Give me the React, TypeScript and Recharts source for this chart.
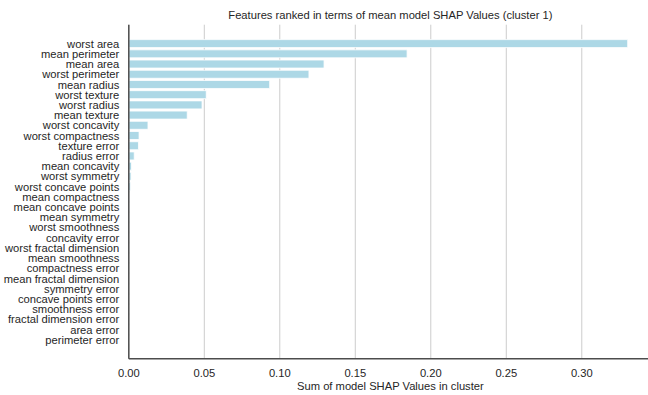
import React from "react";
import { BarChart, Bar, XAxis, YAxis, CartesianGrid, Label } from "recharts";

// Features ordered by their summed SHAP contribution within cluster 1
const features: string[] = [
  "worst area",
  "mean perimeter",
  "mean area",
  "worst perimeter",
  "mean radius",
  "worst texture",
  "worst radius",
  "mean texture",
  "worst concavity",
  "worst compactness",
  "texture error",
  "radius error",
  "mean concavity",
  "worst symmetry",
  "worst concave points",
  "mean compactness",
  "mean concave points",
  "mean symmetry",
  "worst smoothness",
  "concavity error",
  "worst fractal dimension",
  "mean smoothness",
  "compactness error",
  "mean fractal dimension",
  "symmetry error",
  "concave points error",
  "smoothness error",
  "fractal dimension error",
  "area error",
  "perimeter error",
];

const shapSums: number[] = [
  0.3304, 0.1843, 0.1293, 0.1193, 0.0933, 0.0513, 0.0485, 0.0387, 0.0127,
  0.0068, 0.0064, 0.0036, 0.0018, 0.0015, 0.0012, 0.0004, 0.0003, 0.0003,
  0.0002, 0.0002, 0.0002, 0.0001, 0.0001, 0.0001, 0.0001, 0.0001, 0.00005,
  0.00005, 0.00003, 0.00002,
];

const xTicks: number[] = [0, 0.05, 0.1, 0.15, 0.2, 0.25, 0.3];

const data = features.map((name, i) => ({ name, value: shapSums[i] }));

const FONT = "'Liberation Sans', Arial, sans-serif";
const FONT_SIZE = 11.2;
const TEXT = "#262626";
const SPINE = "#4d4d4d";
const X_MAX = 0.3465;

// Single-line category label, right-aligned against the left spine
function FeatureTick(props: any) {
  const { x, y, payload } = props;
  return (
    <text
      x={x}
      y={y}
      dy="0.355em"
      textAnchor="end"
      fontFamily={FONT}
      fontSize={FONT_SIZE}
      fill={TEXT}
    >
      {payload.value}
    </text>
  );
}

export default function App() {
  return (
    <div
      style={{
        position: "absolute",
        left: 0,
        top: 0,
        width: 648,
        height: 395,
        overflow: "hidden",
        background: "#ffffff",
      }}
    >
      <svg
        width={648}
        height={24}
        style={{ position: "absolute", left: 0, top: 0 }}
      >
        <text
          x={390.4}
          y={19}
          textAnchor="middle"
          fontFamily={FONT}
          fontSize={FONT_SIZE}
          fill={TEXT}
        >
          Features ranked in terms of mean model SHAP Values (cluster 1)
        </text>
      </svg>
      <div style={{ position: "absolute", left: 0, top: 0 }}>
        <BarChart
          width={670}
          height={395}
          data={data}
          layout="vertical"
          margin={{ top: 24.7, right: 18, bottom: 0, left: 0 }}
          barCategoryGap="10%"
        >
          <CartesianGrid horizontal={false} vertical stroke="#cccccc" strokeWidth={1} />
          <XAxis
            type="number"
            dataKey="value"
            domain={[0, X_MAX]}
            ticks={xTicks}
            tickFormatter={(v: number) => v.toFixed(2)}
            allowDataOverflow
            height={36.2}
            tickLine={false}
            tickSize={7}
            tickMargin={3}
            axisLine={{ stroke: SPINE, strokeWidth: 1.5 }}
            tick={{ fontSize: FONT_SIZE, fontFamily: FONT, fill: TEXT }}
          >
            <Label
              value="Sum of model SHAP Values in cluster"
              position="insideBottom"
              offset={5}
              style={{ fontSize: FONT_SIZE, fontFamily: FONT, fill: TEXT }}
            />
          </XAxis>
          <XAxis
            xAxisId="top"
            orientation="top"
            type="number"
            domain={[0, X_MAX]}
            height={0}
            tick={false}
            tickLine={false}
            axisLine={{ stroke: SPINE, strokeWidth: 1.5 }}
          />
          <YAxis
            type="category"
            dataKey="name"
            width={128.8}
            interval={0}
            padding={{ top: 13.9, bottom: 13.9 }}
            tickLine={false}
            tickSize={7}
            tickMargin={2.5}
            axisLine={{ stroke: SPINE, strokeWidth: 1.5 }}
            tick={<FeatureTick />}
          />
          <Bar
            dataKey="value"
            fill="#add8e6"
            stroke="#ffffff"
            strokeWidth={0.8}
            isAnimationActive={false}
          />
        </BarChart>
      </div>
    </div>
  );
}
